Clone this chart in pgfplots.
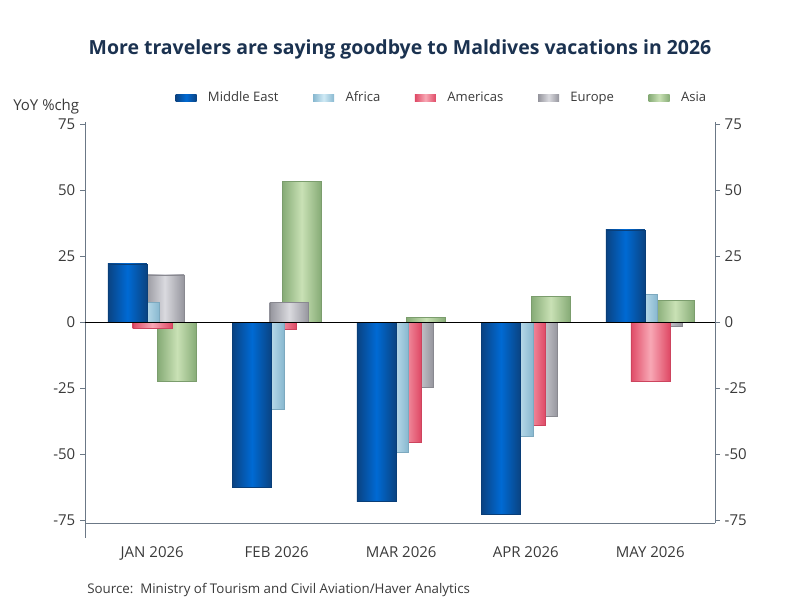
\documentclass[border=0pt]{standalone}
\usepackage{pgfplots}
\pgfplotsset{compat=1.18}
\usepackage{fontspec}
\setmainfont{Open Sans}
\definecolor{titlecol}{HTML}{1B3250}
\definecolor{axiscol}{HTML}{6B7886}
\definecolor{txtcol}{HTML}{3A3A3A}
\definecolor{meE}{HTML}{0A4382}
\definecolor{meM}{HTML}{006AD4}
\definecolor{afE}{HTML}{88B8D0}
\definecolor{afM}{HTML}{D0EAF5}
\definecolor{amE}{HTML}{DF4A66}
\definecolor{amM}{HTML}{F8A8B5}
\definecolor{euE}{HTML}{95959D}
\definecolor{euM}{HTML}{DADADF}
\definecolor{asE}{HTML}{86AB76}
\definecolor{asM}{HTML}{C9E1B5}
\pgfplotsset{
  mybar/.style={ybar, bar width=0.313, line width=0.3pt,
    legend image code/.code={\path[##1,draw=none] (0pt,-2.4pt) rectangle (15.75pt,2.4pt);}},
  asbar/.style={mybar, bar shift=0.2, left color=asE, right color=asE, middle color=asM, draw=asE!92!black},
  eubar/.style={mybar, bar shift=0.1, left color=euE, right color=euE, middle color=euM, draw=euE!92!black},
  ambar/.style={mybar, bar shift=0, left color=amE, right color=amE, middle color=amM, draw=amE!92!black},
  afbar/.style={mybar, bar shift=-0.1, left color=afE, right color=afE, middle color=afM, draw=afE!92!black},
  mebar/.style={mybar, bar shift=-0.2, left color=meE, right color=meE, middle color=meM, draw=meE!92!black},
}
\begin{document}
\begin{tikzpicture}[x=0.75pt,y=0.75pt]
\useasboundingbox (0,0) rectangle (800,600);
\node[anchor=base, font=\bfseries\fontsize{14.6}{17}\selectfont, text=titlecol] at (400,545) {More travelers are saying goodbye to Maldives vacations in 2026};
\node[anchor=base west, font=\fontsize{11.25}{13}\selectfont, text=txtcol, inner sep=0pt] at (13,489) {YoY \%chg};
\node[anchor=base west, font=\fontsize{10}{12}\selectfont, text=txtcol, inner sep=0pt] at (87,7) {Source:\ \ Ministry of Tourism and Civil Aviation/Haver Analytics};
\begin{axis}[
  at={(63.75pt,57.5pt)}, anchor=south west, scale only axis,
  width=472.5pt, height=301pt,
  xmin=-0.54, xmax=4.52, ymin=-76.3, ymax=76,
  axis x line*=bottom, axis y line*=left,
  axis line style={draw=axiscol, line width=0.6pt, -},
  xtick={0,1,2,3,4},
  xticklabels={JAN 2026,FEB 2026,MAR 2026,APR 2026,MAY 2026},
  x tick style={draw=none}, xtick pos=bottom,
  xticklabel style={yshift=-10pt},
  ytick={-75,-50,...,75}, ytick pos=left,
  tick align=outside, major tick length=3.75pt,
  y tick style={draw=axiscol, line width=0.6pt},
  ticklabel style={font=\fontsize{11.25}{13}\selectfont, text=txtcol},
  /pgf/number format/assume math mode=true,
  legend columns=5, reverse legend,
  legend style={draw=none, fill=none, at={(0.567,1.06)}, anchor=center,
    font=\fontsize{9.8}{12}\selectfont, text=txtcol,
    /tikz/every even column/.append style={column sep=24pt},
    /tikz/every odd column/.append style={column sep=6.5pt}},
]
% Asia (back)
\addplot[asbar] coordinates {(0,-22.2)};
\addlegendentry{Asia}
\addplot[asbar, forget plot] coordinates {(1,53.6)};
\addplot[asbar, forget plot] coordinates {(2,2.0)};
\addplot[asbar, forget plot] coordinates {(3,9.9)};
\addplot[asbar, forget plot] coordinates {(4,8.3)};
% Europe
\addplot[eubar] coordinates {(0,18.0)};
\addlegendentry{Europe}
\addplot[eubar, forget plot] coordinates {(1,7.5)};
\addplot[eubar, forget plot] coordinates {(2,-24.5)};
\addplot[eubar, forget plot] coordinates {(3,-35.8)};
\addplot[eubar, forget plot] coordinates {(4,-1.5)};
% Americas
\addplot[ambar] coordinates {(0,-2.2)};
\addlegendentry{Americas}
\addplot[ambar, forget plot] coordinates {(1,-2.6)};
\addplot[ambar, forget plot] coordinates {(2,-45.5)};
\addplot[ambar, forget plot] coordinates {(3,-39.1)};
\addplot[ambar, forget plot] coordinates {(4,-22.4)};
% Africa
\addplot[afbar] coordinates {(0,7.5)};
\addlegendentry{Africa}
\addplot[afbar, forget plot] coordinates {(1,-33.0)};
\addplot[afbar, forget plot] coordinates {(2,-49.2)};
\addplot[afbar, forget plot] coordinates {(3,-43.3)};
\addplot[afbar, forget plot] coordinates {(4,10.5)};
% Middle East (front)
\addplot[mebar] coordinates {(0,22.2)};
\addlegendentry{Middle East}
\addplot[mebar, forget plot] coordinates {(1,-62.7)};
\addplot[mebar, forget plot] coordinates {(2,-68.0)};
\addplot[mebar, forget plot] coordinates {(3,-72.7)};
\addplot[mebar, forget plot] coordinates {(4,35.1)};
\draw[black, line width=0.9pt] (axis cs:-0.54,0) -- (axis cs:4.52,0);
\end{axis}
\begin{axis}[
  at={(63.75pt,57.5pt)}, anchor=south west, scale only axis,
  width=472.5pt, height=301pt,
  xmin=-0.54, xmax=4.52, ymin=-76.3, ymax=76,
  axis x line=none, axis y line*=right,
  axis line style={draw=axiscol, line width=0.6pt, -},
  ytick={-75,-50,...,75}, ytick pos=right, yticklabel pos=right,
  tick align=outside, major tick length=3.75pt,
  y tick style={draw=axiscol, line width=0.6pt},
  ticklabel style={font=\fontsize{11.25}{13}\selectfont, text=txtcol},
  /pgf/number format/assume math mode=true,
]
\end{axis}
\draw[axiscol, line width=0.6pt] (85,76.7) -- (85,62);
\end{tikzpicture}
\end{document}
